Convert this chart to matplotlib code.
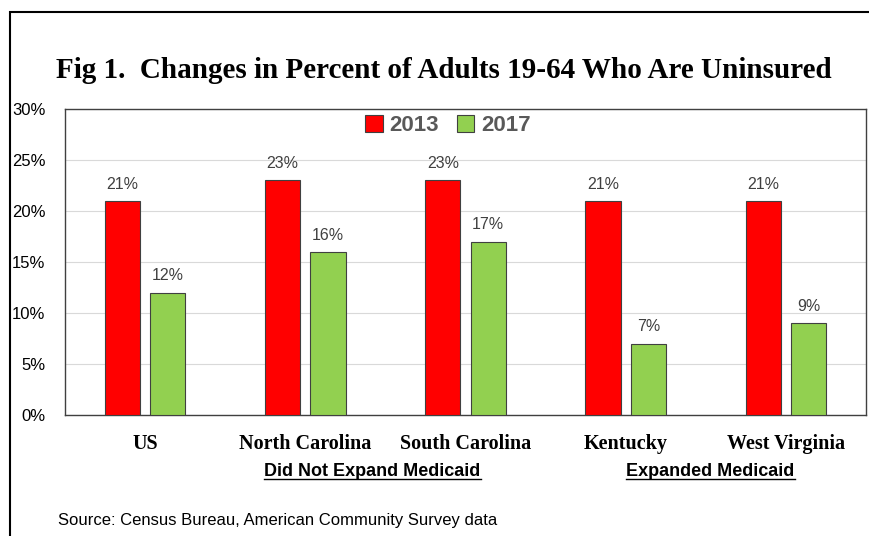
import numpy as np
import matplotlib.pyplot as plt
from matplotlib.patches import Rectangle
from matplotlib.lines import Line2D

## Data
states = ['US', 'North Carolina', 'South Carolina', 'Kentucky', 'West Virginia']
years = ['2013', '2017']
pct_2013 = [21, 23, 23, 21, 21]
pct_2017 = [12, 16, 17, 7, 9]
groups = ['Did Not Expand Medicaid', 'Expanded Medicaid']
group_pos = [1.42, 3.53]

## Figure
W, H = 869, 536
fig = plt.figure(figsize=(W/100, H/100), dpi=100)
ax = fig.add_axes([65/W, 1-415/H, (866-65)/W, (415-109)/H])

x = np.arange(len(states))
bw = 0.22
off = 0.142
b1 = ax.bar(x-off, pct_2013, bw, color='#FF0000', edgecolor='#404040', lw=0.8, label=years[0], zorder=3)
b2 = ax.bar(x+off, pct_2017, bw, color='#92D050', edgecolor='#404040', lw=0.8, label=years[1], zorder=3)
for bars in (b1, b2):
    for r in bars:
        ax.text(r.get_x()+r.get_width()/2, r.get_height()+0.9, '%d%%' % r.get_height(),
                ha='center', va='bottom', fontsize=11.5, color='#404040', family='Liberation Sans')

ax.set_xlim(-0.5, len(states)-0.5)
ax.set_ylim(0, 30)
ax.set_yticks(range(0, 31, 5))
ax.set_yticklabels(['%d%%' % v for v in range(0, 31, 5)], family='Liberation Sans', fontsize=12)
ax.yaxis.grid(True, color='#D9D9D9', lw=0.8, zorder=0)
ax.tick_params(axis='y', length=0, pad=14)
ax.set_xticks(x)
ax.set_xticklabels(states, family='Liberation Serif', fontweight='bold', fontsize=14.5)
ax.tick_params(axis='x', length=0, pad=14)
for s in ax.spines.values():
    s.set_color('#404040')
    s.set_linewidth(1.0)

leg = ax.legend(loc='upper center', ncol=2, frameon=False, bbox_to_anchor=(0.478, 1.045),
                prop={'family': 'Liberation Sans', 'weight': 'bold', 'size': 16},
                handlelength=0.8, handleheight=0.8, handletextpad=0.3, columnspacing=0.8)
for t in leg.get_texts():
    t.set_color('#595959')

## Title and notes
fig.text(444/W, 1-70/H, 'Fig 1.  Changes in Percent of Adults 19-64 Who Are Uninsured',
         ha='center', va='center', family='Liberation Serif', fontweight='bold', fontsize=21)
fig.text(58/W, 1-520/H, 'Source: Census Bureau, American Community Survey data',
         ha='left', va='center', family='Liberation Sans', fontsize=12)

fig.canvas.draw()
rend = fig.canvas.get_renderer()
for g, gx in zip(groups, group_pos):
    t = ax.text(gx, -0.186, g, transform=ax.get_xaxis_transform(), ha='center', va='center',
                family='Liberation Sans', fontweight='bold', fontsize=13, color='black')
    bb = t.get_window_extent(rend).transformed(fig.transFigure.inverted())
    fig.add_artist(Line2D([bb.x0, bb.x1], [bb.y0+0.002, bb.y0+0.002], color='black', lw=1.0))

## Outer border
fig.add_artist(Rectangle((10/W, -0.05), 1.0, 1-12/H+0.05, transform=fig.transFigure,
                         fill=False, edgecolor='black', lw=1.5, clip_on=False))

fig.savefig('out.png', dpi=100)
